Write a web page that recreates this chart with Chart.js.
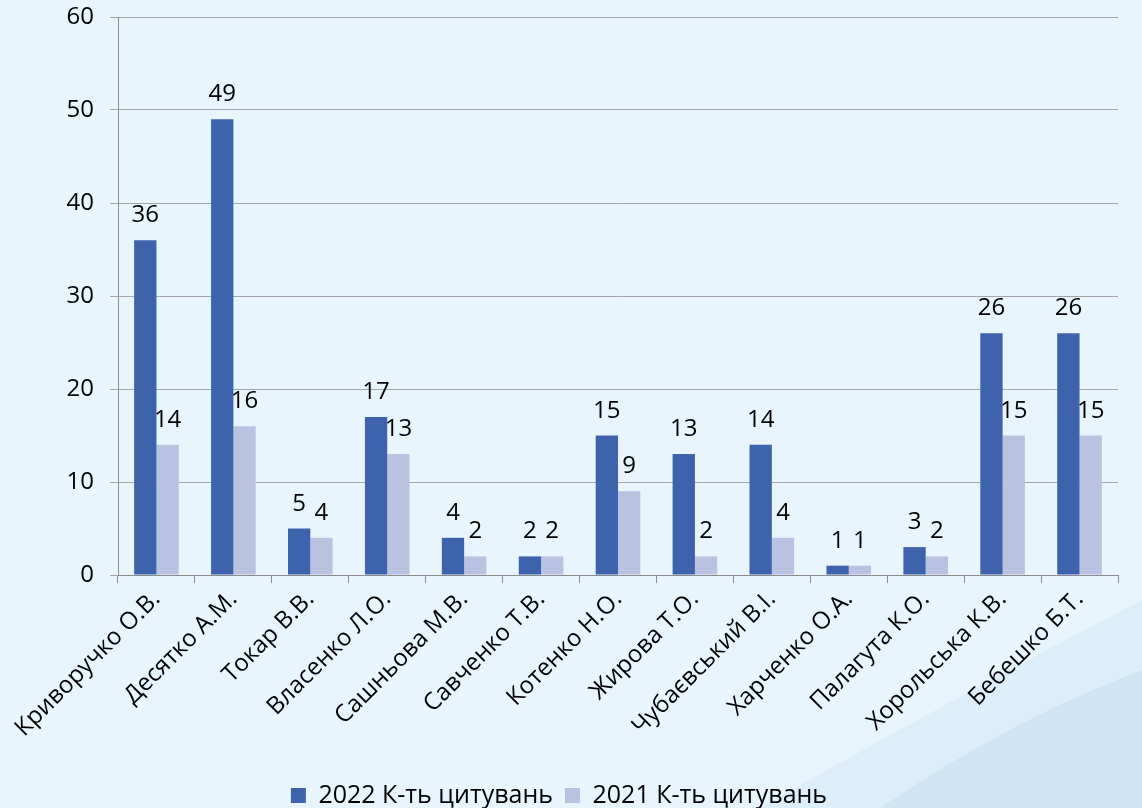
<!DOCTYPE html>
<html>
<head>
<meta charset="utf-8">
<script src="https://cdn.jsdelivr.net/npm/chart.js@4.4.1/dist/chart.umd.min.js"></script>
<style>
  html, body { margin: 0; padding: 0; background: #e9f5fd; overflow: hidden; }
  canvas { display: block; }
</style>
</head>
<body>
<canvas id="myChart" width="1142" height="808" style="width:1142px;height:808px"></canvas>
<script>
const names = ['Криворучко О.В.', 'Десятко А.М.', 'Токар В.В.', 'Власенко Л.О.', 'Сашньова М.В.',
    'Савченко Т.В.', 'Котенко Н.О.', 'Жирова Т.О.', 'Чубаєвський В.І.', 'Харченко О.А.',
    'Палагута К.О.', 'Хорольська К.В.', 'Бебешко Б.Т.'];
const cites2022 = [36, 49, 5, 17, 4, 2, 15, 13, 14, 1, 3, 26, 26];
const cites2021 = [14, 16, 4, 13, 2, 2, 9, 2, 4, 1, 2, 15, 15];
const yTicks = [0, 10, 20, 30, 40, 50, 60];

Chart.defaults.font.family = '"Open Sans", "Noto Sans", sans-serif';
Chart.defaults.color = '#000';

// light swoosh in the lower right corner
const swoosh = {
    id: 'swoosh',
    beforeDraw(chart) {
        const c = chart.ctx;
        c.save();
        c.fillStyle = '#e9f5fd';
        c.fillRect(0, 0, chart.width, chart.height);
        c.fillStyle = '#dbeefa';
        c.beginPath();
        c.moveTo(760, 808);
        c.quadraticCurveTo(950, 700, 1142, 600);
        c.lineTo(1142, 808);
        c.closePath();
        c.fill();
        c.fillStyle = '#cfe5f6';
        c.beginPath();
        c.moveTo(880, 808);
        c.quadraticCurveTo(1010, 720, 1142, 670);
        c.lineTo(1142, 808);
        c.closePath();
        c.fill();
        c.restore();
    }
};

// value labels above bars
const valueLabels = {
    id: 'valueLabels',
    afterDatasetsDraw(chart) {
        const c = chart.ctx;
        c.save();
        c.font = '24px "Open Sans", "Noto Sans", sans-serif';
        c.fillStyle = '#000';
        c.textAlign = 'center';
        c.textBaseline = 'alphabetic';
        chart.data.datasets.forEach((ds, i) => {
            chart.getDatasetMeta(i).data.forEach((bar, j) => {
                c.fillText(ds.data[j], bar.x, bar.y - 18);
            });
        });
        c.restore();
    }
};

var ctx = document.getElementById('myChart').getContext('2d');
var myChart = new Chart(ctx, {
    type: 'bar',
    data: {
        labels: names,
        datasets: [{
            label: '2022 К-ть цитувань',
            data: cites2022,
            backgroundColor: '#3d63ad',
            borderWidth: 0
        }, {
            label: '2021 К-ть цитувань',
            data: cites2021,
            backgroundColor: '#bac2e2',
            borderWidth: 0
        }]
    },
    options: {
        responsive: false,
        animation: false,
        devicePixelRatio: 1,
        layout: { padding: { left: 0, right: 24, top: 0, bottom: -10 } },
        datasets: {
            bar: { categoryPercentage: 0.58, barPercentage: 1 }
        },
        plugins: {
            tooltip: { enabled: false },
            legend: {
                position: 'bottom',
                labels: {
                    font: { size: 25 },
                    boxWidth: 15,
                    boxHeight: 15,
                    padding: 12
                }
            }
        },
        scales: {
            x: {
                grid: {
                    offset: true,
                    drawOnChartArea: false,
                    color: '#8c8c8c',
                    tickLength: 8
                },
                border: { color: '#8c8c8c' },
                ticks: {
                    font: { size: 24 },
                    maxRotation: 45,
                    minRotation: 45,
                    padding: 2
                },
                afterFit(scale) { scale.height = 196; }
            },
            y: {
                min: 0,
                max: 60,
                afterBuildTicks(scale) { scale.ticks = yTicks.map(v => ({ value: v })); },
                grid: { color: '#a6a6a6', tickLength: 8 },
                border: { color: '#8c8c8c' },
                ticks: { font: { size: 24 }, padding: 16 },
                afterFit(scale) { scale.width = 118; scale.paddingTop = 17; }
            }
        }
    },
    plugins: [swoosh, valueLabels]
});
</script>
</body>
</html>
